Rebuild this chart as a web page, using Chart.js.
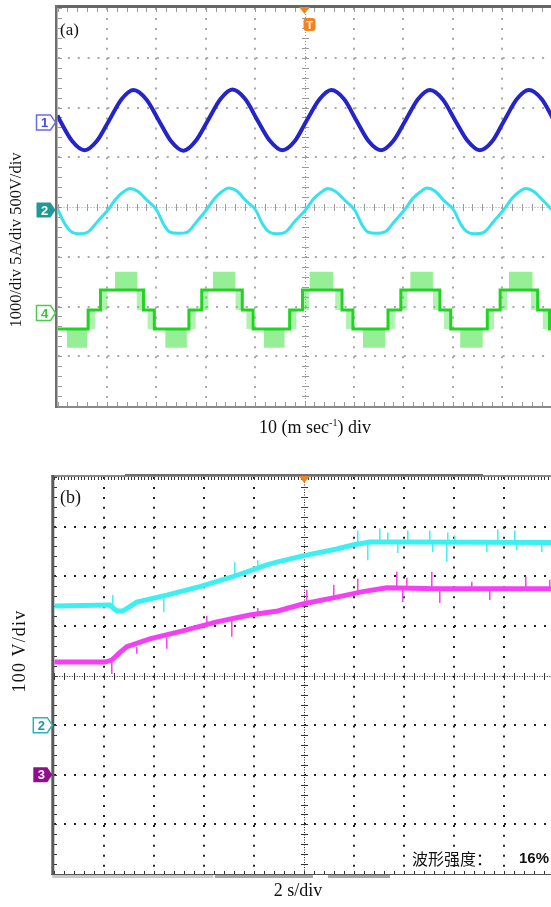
<!DOCTYPE html>
<html>
<head>
<meta charset="utf-8">
<script src="https://cdn.jsdelivr.net/npm/chart.js@4.4.1/dist/chart.umd.min.js"></script>
<style>
html,body{margin:0;padding:0;background:#fff;overflow:hidden;}
#wrap{position:relative;width:551px;height:907px;overflow:hidden;background:#fff;}
canvas{position:absolute;left:0;}
.lbl{position:absolute;white-space:nowrap;color:#111;font-family:"Liberation Serif","Times New Roman",serif;}
</style>
</head>
<body>
<div id="wrap">
  <canvas id="chartA" style="top:0px"></canvas>
  <canvas id="chartB" style="top:460px"></canvas>
  <div class="lbl" style="left:60px;top:21px;font-size:17px;line-height:17px;">(a)</div>
  <div class="lbl" style="left:60px;top:488px;font-size:18px;line-height:18px;">(b)</div>
  <div class="lbl" style="left:-134px;top:230px;width:300px;height:20px;line-height:20px;font-size:16.5px;text-align:center;transform:rotate(-90deg);">1000/div 5A/div 500V/div</div>
  <div class="lbl" style="left:-131px;top:641px;width:300px;height:20px;line-height:20px;font-size:18px;letter-spacing:1.2px;text-align:center;transform:rotate(-90deg);">100 V/div</div>
  <div class="lbl" style="left:165px;top:418px;width:300px;text-align:center;font-size:18px;line-height:18px;">10 (m sec<sup style="font-size:10px;vertical-align:7px;line-height:0;">-1</sup>) div</div>
  <div class="lbl" style="left:198px;top:881px;width:200px;text-align:center;font-size:18px;line-height:18px;">2 s/div</div>
  <div style="position:absolute;left:412px;top:849px;font-family:'Noto Sans CJK SC';font-size:16px;line-height:18px;color:#111;white-space:nowrap;">波形强度：</div>
  <div style="position:absolute;left:519px;top:850px;font-family:'Liberation Sans',Arial,sans-serif;font-weight:bold;font-size:15px;line-height:16px;color:#111;">16%</div>
</div>
<script>
// ---------- Panel (a): time in divisions (10 ms/div), amplitude in screen divisions (0 = bottom line) ----------
const aBlueTime  = [0.00,0.05,0.30,0.55,0.80,1.05,1.30,1.54,1.80,2.05,2.30,2.55,2.80,3.05,3.30,3.54,3.80,4.05,4.30,4.55,4.80,5.05,5.30,5.54,5.80,6.05,6.30,6.55,6.80,7.05,7.30,7.54,7.80,8.05,8.30,8.55,8.80,9.05,9.30,9.54,9.80,10.05];
const aBlueValue = [5.84,5.74,5.32,5.14,5.33,5.75,6.17,6.35,6.16,5.74,5.32,5.13,5.33,5.75,6.17,6.36,6.17,5.74,5.33,5.14,5.32,5.75,6.16,6.35,6.17,5.74,5.32,5.14,5.33,5.75,6.17,6.35,6.16,5.74,5.33,5.14,5.32,5.75,6.17,6.35,6.17,5.74];

const aCyanTime  = [0.00,
  0.01,0.15,0.27,0.44,0.62,0.82,1.02,1.18,1.33,1.47,1.63,1.81,
  2.01,2.15,2.27,2.44,2.62,2.82,3.02,3.18,3.33,3.47,3.63,3.81,
  4.01,4.15,4.27,4.44,4.62,4.82,5.02,5.18,5.33,5.47,5.63,5.81,
  6.02,6.16,6.28,6.45,6.63,6.83,7.03,7.19,7.34,7.48,7.64,7.82,
  8.02,8.16,8.28,8.45,8.63,8.83,9.03,9.19,9.34,9.48,9.64,9.82,
  10.02];
const aCyanValue = [3.96,
  3.94,3.66,3.51,3.46,3.50,3.72,3.94,4.16,4.30,4.37,4.31,4.14,
  3.93,3.65,3.50,3.47,3.49,3.71,3.95,4.17,4.31,4.38,4.32,4.13,
  3.94,3.66,3.51,3.46,3.50,3.73,3.94,4.16,4.29,4.37,4.31,4.14,
  3.93,3.65,3.50,3.47,3.50,3.72,3.95,4.17,4.30,4.38,4.32,4.13,
  3.94,3.66,3.51,3.46,3.49,3.71,3.94,4.16,4.30,4.37,4.31,4.14,
  3.93];

const aGreenStepTime  = [0.00,0.62,0.87,1.74,1.96,2.66,2.92,3.74,3.96,4.70,4.96,5.76,5.98,6.69,6.95,7.74,7.96,8.70,8.96,9.72,9.96,10.05];
const aGreenStepLevel = [1.55,1.93,2.33,1.93,1.55,1.93,2.33,1.93,1.55,1.93,2.33,1.93,1.55,1.93,2.33,1.93,1.55,1.93,2.33,1.93,1.55,1.55];
const aGreenTopBandStart = [1.16,3.14,5.10,7.14,9.14];
const aGreenTopBandEnd   = [1.61,3.60,5.58,7.60,9.62];
const aGreenTopBandRange = [2.33,2.70];
const aGreenLowBandStart = [0.19,2.18,4.18,6.18,8.15];
const aGreenLowBandEnd   = [0.60,2.62,4.60,6.63,8.61];
const aGreenLowBandRange = [1.17,1.55];

const aMarkLabel = ['1','2','4'];
const aMarkLevel = [5.70,3.94,1.87];

// ---------- Panel (b): time in divisions (2 s/div), amplitude in screen divisions ----------
const bCyanTime  = [0,1.11,1.25,1.37,1.65,2.25,2.91,3.57,4.25,4.47,4.97,5.65,5.97,6.31,6.97,10];
const bCyanValue = [5.40,5.42,5.30,5.30,5.48,5.62,5.79,5.99,6.23,6.29,6.41,6.55,6.63,6.69,6.69,6.68];
const bMagentaTime  = [0,1.01,1.15,1.31,1.45,1.91,2.57,3.25,3.91,4.47,4.97,5.65,6.17,6.65,7.65,10];
const bMagentaValue = [4.27,4.27,4.31,4.46,4.58,4.74,4.90,5.08,5.22,5.30,5.44,5.58,5.69,5.77,5.75,5.75];

const bCyanSpikeTime = [1.17,2.19,3.61,4.07,6.07,6.27,6.51,6.67,6.87,7.07,7.51,7.57,7.85,7.87,8.01,8.65,8.87,9.21,9.25,9.75];
const bCyanSpikeFrom = [5.42,5.58,5.96,6.12,6.62,6.66,6.69,6.69,6.69,6.69,6.69,6.69,6.69,6.69,6.69,6.69,6.69,6.69,6.69,6.69];
const bCyanSpikeTo   = [5.62,5.28,6.28,6.32,6.92,6.32,6.96,6.88,6.47,6.92,6.92,6.49,6.29,6.88,6.82,6.49,6.94,6.92,6.53,6.49];
const bMagentaSpikeTime = [1.15,1.65,2.25,3.05,3.55,4.07,5.05,5.59,6.07,6.85,6.97,7.05,7.55,7.71,8.35,8.71,9.43,9.91];
const bMagentaSpikeFrom = [4.31,4.58,4.76,5.00,5.12,5.26,5.46,5.58,5.68,5.75,5.75,5.75,5.75,5.75,5.75,5.75,5.75,5.75];
const bMagentaSpikeTo   = [4.03,4.44,4.54,5.20,4.78,5.36,5.73,5.83,5.95,6.09,5.48,5.97,6.09,5.46,5.89,5.52,5.99,5.93];

const bMarkLabel = ['2','3'];
const bMarkLevel = [3.0,2.0];

// ---------- helpers ----------
const pts = (xs, ys) => xs.map((x, i) => ({x: x, y: ys[i]}));
function spikes(ts, from, to) {
  const out = [];
  ts.forEach((t, i) => { out.push({x: t, y: from[i]}, {x: t, y: to[i]}, {x: t, y: null}); });
  return out;
}
function band(a, b, lo, hi, color) {
  return {data: [{x: a, y: hi}, {x: b, y: hi}], fill: {value: lo}, backgroundColor: color,
          borderColor: 'rgba(0,0,0,0)', borderWidth: 0, pointRadius: 0};
}
function axis(min, max, centre, color, dash) {
  return {
    type: 'linear', min: min, max: max, display: true,
    ticks: {display: false, stepSize: 1},
    title: {display: false},
    grid: {
      drawTicks: false, lineWidth: 2,
      color: c => (c.tick && (c.tick.value === min || c.tick.value === max || c.tick.value === centre)) ? 'rgba(0,0,0,0)' : color
    },
    border: {display: false, dash: dash}
  };
}

const graticule = {
  id: 'graticule',
  beforeDatasetsDraw(chart, args, o) {
    const {ctx, chartArea: ca} = chart;
    const xs = chart.scales.x, ys = chart.scales.y;
    const xcR = Math.round(xs.getPixelForValue(5)), ycR = Math.round(ys.getPixelForValue(4));
    ctx.save();
    // centre lines
    ctx.strokeStyle = o.centreColor; ctx.lineWidth = 1; ctx.setLineDash(o.centreDash);
    ctx.beginPath();
    ctx.moveTo(xcR + 0.5, ca.top); ctx.lineTo(xcR + 0.5, ca.bottom);
    ctx.moveTo(ca.left, ycR + 0.5); ctx.lineTo(ca.right, ycR + 0.5);
    ctx.stroke();
    ctx.setLineDash([]);
    // minor ticks on centre lines and edges
    ctx.fillStyle = o.tickColor;
    for (let i = 0; i <= 50; i++) {
      const px = Math.round(xs.getPixelForValue(i / 5));
      ctx.fillRect(px, ycR - 3, 1, 7);
      ctx.fillRect(px, Math.round(ca.bottom) - o.edgeTick, 1, o.edgeTick);
      if (!o.denseTop) ctx.fillRect(px, Math.round(ca.top), 1, o.edgeTick);
    }
    if (o.denseTop) {
      for (let i = 0; i <= 150; i++) {
        const px = Math.round(xs.getPixelForValue(i / 15));
        ctx.fillRect(px, Math.round(ca.top), 1, 3);
      }
    }
    for (let i = 0; i <= 40; i++) {
      const py = Math.round(ys.getPixelForValue(i / 5));
      ctx.fillRect(xcR - 3, py, 7, 1);
      ctx.fillRect(Math.round(ca.left), py, o.edgeTick, 1);
    }
    // frame
    ctx.fillStyle = o.topColor;
    ctx.fillRect(ca.left - o.leftW, ca.top - o.topW, ca.right - ca.left + o.leftW, o.topW);
    ctx.fillStyle = o.bottomColor;
    ctx.fillRect(ca.left - o.leftW, ca.bottom, ca.right - ca.left + o.leftW, o.bottomW);
    ctx.fillStyle = o.leftColor;
    ctx.fillRect(ca.left - o.leftW, ca.top - o.topW, o.leftW, ca.bottom - ca.top + o.topW + o.bottomW);
    if (o.extra) o.extra(ctx, ca, xs);
    ctx.restore();
  },
  afterDraw(chart, args, o) {
    const {ctx, chartArea: ca} = chart;
    const xs = chart.scales.x, ys = chart.scales.y;
    ctx.save();
    (o.marks || []).forEach(m => {
      const yc = ys.getPixelForValue(m.level);
      const xr = ca.left + o.markOffset, w = 19, h = 15, tip = 5, xl = xr - w;
      ctx.beginPath();
      ctx.moveTo(xl, yc - h / 2); ctx.lineTo(xr - tip, yc - h / 2); ctx.lineTo(xr, yc);
      ctx.lineTo(xr - tip, yc + h / 2); ctx.lineTo(xl, yc + h / 2); ctx.closePath();
      if (m.filled) { ctx.fillStyle = m.color; ctx.fill(); }
      else { ctx.fillStyle = '#fff'; ctx.fill(); ctx.lineWidth = 1.5; ctx.strokeStyle = m.color; ctx.stroke(); }
      ctx.fillStyle = m.text;
      ctx.font = 'bold 13px "Liberation Sans", Arial, sans-serif';
      ctx.textAlign = 'center'; ctx.textBaseline = 'middle';
      ctx.fillText(m.label, xl + (w - tip) / 2 + 1, yc + 1);
    });
    // trigger marker
    const tx = xs.getPixelForValue(5);
    ctx.fillStyle = '#f58220';
    ctx.beginPath();
    ctx.moveTo(tx - 5.5, ca.top - 1); ctx.lineTo(tx + 5.5, ca.top - 1); ctx.lineTo(tx, ca.top + 6); ctx.closePath();
    ctx.fill();
    if (o.triggerBox) {
      const bx = tx - 1, by = ca.top + 10, bw = 12, bh = 13;
      ctx.beginPath();
      ctx.moveTo(bx + 3, by); ctx.lineTo(bx + bw - 3, by); ctx.quadraticCurveTo(bx + bw, by, bx + bw, by + 3);
      ctx.lineTo(bx + bw, by + bh - 3); ctx.quadraticCurveTo(bx + bw, by + bh, bx + bw - 3, by + bh);
      ctx.lineTo(bx + 3, by + bh); ctx.quadraticCurveTo(bx, by + bh, bx, by + bh - 3);
      ctx.lineTo(bx, by + 3); ctx.quadraticCurveTo(bx, by, bx + 3, by); ctx.closePath(); ctx.fill();
      ctx.fillStyle = '#fff';
      ctx.font = 'bold 11px "Liberation Sans", Arial, sans-serif';
      ctx.textAlign = 'center'; ctx.textBaseline = 'middle';
      ctx.fillText('T', bx + bw / 2, by + bh / 2 + 1);
    }
    ctx.restore();
  }
};

const base = {
  responsive: false, animation: false, devicePixelRatio: 1, events: [],
  plugins: {legend: {display: false}, tooltip: {enabled: false}},
  elements: {point: {radius: 0}, line: {tension: 0}}
};

// ---------- Chart (a) ----------
const greenFill = 'rgba(80,228,80,0.6)';
const aDatasets = [
  {data: pts(aBlueTime, aBlueValue), borderColor: '#2424c8', borderWidth: 4, cubicInterpolationMode: 'monotone', fill: false},
  {data: pts(aCyanTime, aCyanValue), borderColor: '#35e2ef', borderWidth: 3, cubicInterpolationMode: 'monotone', fill: false},
  {data: pts(aGreenStepTime, aGreenStepLevel), borderColor: '#22d422', borderWidth: 3, stepped: true, fill: false}
];
aGreenTopBandStart.forEach((s, i) => aDatasets.push(band(s, aGreenTopBandEnd[i], aGreenTopBandRange[0], aGreenTopBandRange[1], greenFill)));
aGreenLowBandStart.forEach((s, i) => aDatasets.push(band(s, aGreenLowBandEnd[i], aGreenLowBandRange[0], aGreenLowBandRange[1], greenFill)));
for (let i = 1; i < aGreenStepTime.length - 1; i++) {
  const s = aGreenStepTime[i], prev = aGreenStepLevel[i - 1], cur = aGreenStepLevel[i];
  if (prev === cur) continue;
  const rise = cur > prev;
  aDatasets.push(band(rise ? s - 0.02 : s - 0.14, rise ? s + 0.14 : s + 0.02, Math.min(prev, cur), Math.max(prev, cur), 'rgba(80,228,80,0.45)'));
}

const cA = document.getElementById('chartA');
cA.width = 552; cA.height = 420;
new Chart(cA, {
  type: 'line',
  data: {datasets: aDatasets},
  options: Object.assign({}, base, {
    layout: {padding: {left: 57.5, right: 0.5, top: 8, bottom: 14}},
    scales: {x: axis(0, 10, 5, '#a8a8a8', [2, 7.95]), y: axis(0, 8, 4, '#a8a8a8', [2, 7.88])},
    plugins: Object.assign({}, base.plugins, {
      graticule: {
        centreColor: '#9a9a9a', centreDash: [1, 2], tickColor: '#9a9a9a', edgeTick: 4,
        leftW: 2.5, topW: 3, bottomW: 2, leftColor: '#707070', topColor: '#666666', bottomColor: '#8a8a8a',
        markOffset: -2,
        marks: aMarkLabel.map((l, i) => ({label: l, level: aMarkLevel[i],
          filled: l === '2', color: l === '1' ? '#6a6aee' : (l === '2' ? '#1f9898' : '#4ccc4c'),
          text: l === '1' ? '#4a4ae0' : (l === '2' ? '#ffffff' : '#3cc43c')})),
        triggerBox: true
      }
    })
  }),
  plugins: [graticule]
});

// ---------- Chart (b) ----------
const cB = document.getElementById('chartB');
cB.width = 560; cB.height = 430;
new Chart(cB, {
  type: 'line',
  data: {datasets: [
    {data: pts(bCyanTime, bCyanValue), borderColor: '#3cf0f2', borderWidth: 5, fill: false},
    {data: pts(bMagentaTime, bMagentaValue), borderColor: '#f440f4', borderWidth: 5, fill: false},
    {data: spikes(bCyanSpikeTime, bCyanSpikeFrom, bCyanSpikeTo), borderColor: '#3cf0f2', borderWidth: 1.5, fill: false, spanGaps: false},
    {data: spikes(bMagentaSpikeTime, bMagentaSpikeFrom, bMagentaSpikeTo), borderColor: '#f440f4', borderWidth: 1.5, fill: false, spanGaps: false}
  ]},
  options: Object.assign({}, base, {
    layout: {padding: {left: 54.3, right: 5.7, top: 17, bottom: 16}},
    scales: {x: axis(0, 10, 5, '#222222', [2, 7.94]), y: axis(0, 8, 4, '#222222', [2, 8])},
    plugins: Object.assign({}, base.plugins, {
      graticule: {
        centreColor: '#222222', centreDash: [1, 1.5], tickColor: '#333333', edgeTick: 3, denseTop: true,
        leftW: 3, topW: 2, bottomW: 1, leftColor: '#5a5a5a', topColor: '#8a8a8a', bottomColor: '#555555',
        markOffset: -2,
        marks: bMarkLabel.map((l, i) => ({label: l, level: bMarkLevel[i],
          filled: l === '3', color: l === '2' ? '#2ab4b4' : '#8e0e8e', text: l === '2' ? '#1a9a9a' : '#ffffff'})),
        triggerBox: false,
        extra: (ctx, ca, xs) => {
          ctx.fillStyle = '#707070';
          ctx.fillRect(125, ca.top - 3, 358, 2);
          ctx.fillStyle = '#c8c8c8';
          ctx.fillRect(ca.left - 2, ca.bottom + 1, 161, 3);
          ctx.fillStyle = '#a4a4a4';
          ctx.fillRect(215, ca.bottom + 1, 98, 3);
          ctx.fillRect(328, ca.bottom + 1, 62, 3);
        }
      }
    })
  }),
  plugins: [graticule]
});
</script>
</body>
</html>
